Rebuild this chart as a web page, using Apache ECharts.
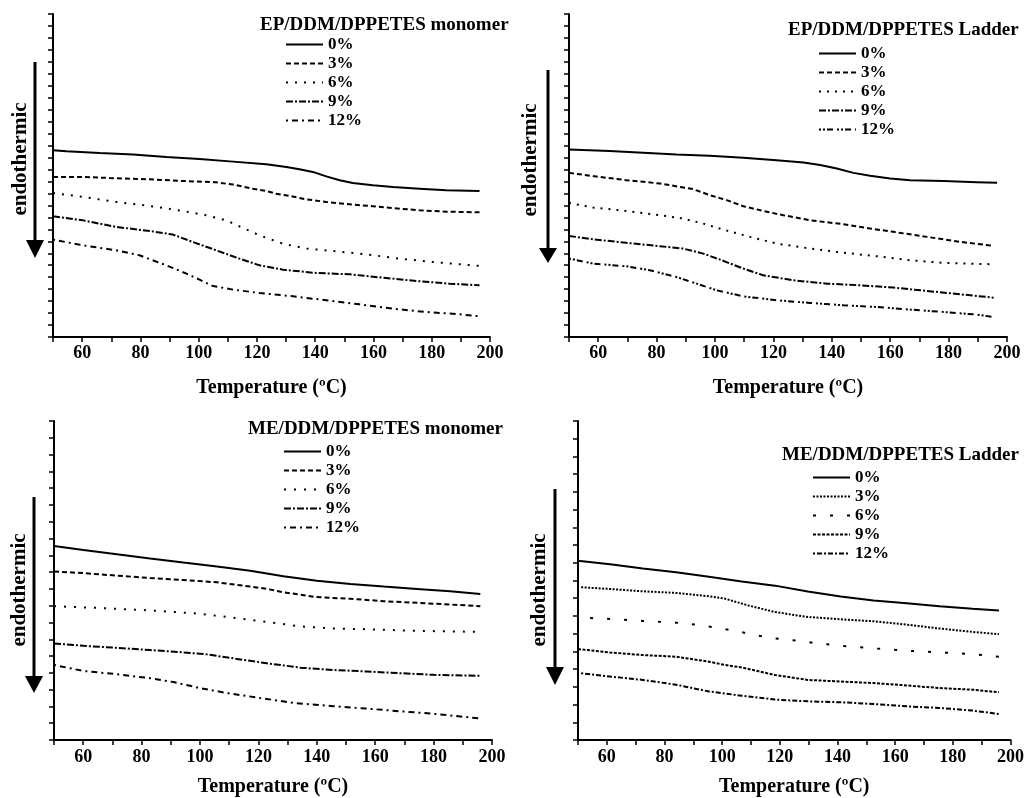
<!DOCTYPE html>
<html><head><meta charset="utf-8">
<script src="https://cdn.jsdelivr.net/npm/echarts@6/dist/echarts.min.js"></script>
<style>html,body{margin:0;padding:0;background:#fff}#c{width:1027px;height:798px}</style>
</head><body><div id="c"></div>
<script>
// ---------- data (temperature in °C, heat-flow in axis tick units) ----------
const xTicks = [60, 80, 100, 120, 140, 160, 180, 200];
const legendNames = ['0%', '3%', '6%', '9%', '12%'];
const panelTitles = ['EP/DDM/DPPETES monomer', 'EP/DDM/DPPETES Ladder', 'ME/DDM/DPPETES monomer', 'ME/DDM/DPPETES Ladder'];

// Panel 1: EP/DDM/DPPETES monomer
const p1_0 = [[50,15.61],[54.6,15.52],[66,15.38],[77.5,15.25],[88.9,15.05],[100.3,14.88],[111.8,14.66],[123.2,14.44],[130.1,14.21],[134.6,14.02],[139.2,13.80],[143.8,13.43],[148.4,13.10],[152.9,12.88],[159.8,12.68],[166.7,12.54],[175.8,12.40],[185,12.26],[196.4,12.21]];
const p1_3 = [[50,13.38],[60.3,13.38],[69.4,13.29],[83.2,13.18],[94.6,13.04],[106,12.93],[111.8,12.74],[118.6,12.40],[123.2,12.21],[126.6,11.98],[131.2,11.79],[136.9,11.51],[143.8,11.29],[151.8,11.09],[159.8,10.93],[169,10.73],[175.8,10.59],[185,10.48],[196.4,10.42]];
const p1_6 = [[50,12.04],[60.3,11.71],[71.7,11.29],[83.2,10.95],[94.6,10.54],[102.6,10.17],[109.5,9.75],[114,9.25],[120.9,8.50],[128.9,7.80],[136.9,7.39],[146.1,7.19],[157.5,6.91],[169,6.55],[180.4,6.27],[196.4,5.94]];
const p1_9 = [[50,10.09],[60.3,9.75],[71.7,9.20],[83.2,8.86],[91.2,8.56],[98,7.94],[106,7.25],[114,6.55],[120.9,5.99],[128.9,5.63],[140.4,5.35],[151.8,5.24],[163.2,4.96],[174.7,4.68],[186.1,4.46],[196.4,4.32]];
const p1_12 = [[50,8.14],[60.3,7.66],[71.7,7.25],[79.7,6.83],[88.9,5.99],[95.8,5.30],[100.3,4.79],[104.9,4.26],[111.8,3.96],[120.9,3.68],[132.4,3.40],[143.8,3.07],[155.2,2.73],[166.7,2.37],[178.1,2.09],[189.5,1.90],[196.4,1.73]];

// Panel 2: EP/DDM/DPPETES Ladder
const p2_0 = [[50,15.68],[63.9,15.54],[75.4,15.40],[86.8,15.26],[98.2,15.15],[109.7,14.98],[121.1,14.78],[130.3,14.59],[136,14.37],[141.7,14.09],[147.4,13.72],[153.1,13.47],[160,13.25],[166.8,13.11],[178.3,13.03],[189.7,12.94],[196.6,12.89]];
const p2_3 = [[50,13.72],[58.2,13.45],[69.7,13.11],[81.1,12.83],[92.5,12.36],[98.2,11.86],[104,11.44],[109.7,10.93],[116.5,10.54],[123.4,10.18],[132.5,9.76],[144,9.43],[153.1,9.07],[161.1,8.79],[172.6,8.37],[184,7.95],[195.4,7.62]];
const p2_6 = [[50,11.21],[58.2,10.82],[69.7,10.54],[81.1,10.18],[89.1,9.90],[96,9.48],[102.8,8.98],[112,8.37],[121.1,7.81],[130.3,7.48],[141.7,7.11],[155.4,6.75],[166.8,6.42],[178.3,6.19],[195.4,6.08]];
const p2_9 = [[50,8.45],[58.2,8.17],[69.7,7.87],[81.1,7.59],[89.1,7.39],[96,6.97],[101.7,6.47],[109.7,5.72],[116.5,5.16],[126.8,4.74],[138.3,4.46],[149.7,4.32],[161.1,4.13],[172.6,3.85],[184,3.57],[195.4,3.29]];
const p2_12 = [[50,6.56],[58.2,6.14],[69.7,5.91],[77.7,5.58],[86.8,5.02],[93.7,4.46],[100.5,3.91],[109.7,3.40],[121.1,3.07],[132.5,2.85],[144,2.65],[155.4,2.51],[166.8,2.29],[178.3,2.09],[189.7,1.87],[195.4,1.67]];

// Panel 3: ME/DDM/DPPETES monomer
const p3_0 = [[50,11.56],[60.1,11.32],[71.5,11.07],[82.9,10.81],[94.3,10.57],[105.8,10.34],[117.2,10.08],[128.6,9.75],[140,9.49],[151.5,9.29],[162.9,9.14],[174.3,9.00],[185.7,8.86],[196,8.70]];
const p3_3 = [[50,10.04],[60.1,9.94],[71.5,9.79],[82.9,9.65],[94.3,9.53],[105.8,9.39],[117.2,9.14],[122.9,9.00],[128.6,8.80],[140,8.51],[151.5,8.41],[162.9,8.27],[174.3,8.17],[185.7,8.07],[196,7.97]];
const p3_6 = [[50,7.97],[65.8,7.86],[82.9,7.72],[100,7.52],[111.5,7.28],[122.9,7.03],[134.3,6.77],[145.7,6.64],[157.2,6.60],[174.3,6.50],[196,6.44]];
const p3_9 = [[50,5.75],[60.1,5.61],[71.5,5.49],[82.9,5.36],[94.3,5.22],[102.3,5.10],[111.5,4.86],[122.9,4.57],[134.3,4.31],[145.7,4.17],[157.2,4.08],[168.6,3.98],[180,3.88],[196,3.82]];
const p3_12 = [[50,4.47],[60.1,4.11],[71.5,3.92],[82.9,3.68],[90.9,3.45],[100,3.09],[109.2,2.80],[120.6,2.50],[132,2.21],[145.7,2.01],[157.2,1.87],[168.6,1.71],[180,1.56],[196,1.28]];

// Panel 4: ME/DDM/DPPETES Ladder
const p4_0 = [[50,10.11],[61.1,9.92],[72.5,9.68],[84,9.46],[95.4,9.21],[106.8,8.95],[118.3,8.71],[129.7,8.38],[141.1,8.10],[152.5,7.87],[164,7.72],[175.4,7.55],[186.8,7.41],[196,7.31]];
const p4_3 = [[51.1,8.62],[61.1,8.52],[72.5,8.39],[84,8.30],[95.4,8.11],[101.1,7.97],[109.1,7.59],[118.3,7.22],[129.7,6.94],[141.1,6.81],[152.5,6.70],[164,6.51],[175.4,6.29],[186.8,6.10],[196,5.97]];
const p4_6 = [[54.2,6.88],[63.4,6.81],[72.5,6.72],[84,6.62],[90.8,6.51],[97.7,6.34],[104.6,6.16],[112.6,5.88],[118.3,5.73],[126.3,5.60],[133.1,5.45],[141.1,5.32],[152.5,5.17],[164,5.04],[175.4,4.94],[186.8,4.85],[196,4.70]];
const p4_9 = [[50,5.13],[61.1,4.94],[72.5,4.79],[84,4.70],[95.4,4.42],[101.1,4.23],[106.8,4.09],[118.3,3.67],[129.7,3.39],[141.1,3.30],[152.5,3.21],[164,3.08],[175.4,2.93],[186.8,2.84],[196,2.69]];
const p4_12 = [[51.1,3.77],[61.1,3.58],[72.5,3.39],[84,3.12],[95.4,2.74],[106.8,2.50],[118.3,2.28],[129.7,2.18],[141.1,2.13],[152.5,2.03],[164,1.90],[175.4,1.81],[186.8,1.66],[196,1.47]];

const panelData = [[p1_0,p1_3,p1_6,p1_9,p1_12],[p2_0,p2_3,p2_6,p2_9,p2_12],[p3_0,p3_3,p3_6,p3_9,p3_12],[p4_0,p4_3,p4_6,p4_9,p4_12]];
const yTickCounts = [27, 27, 19, 18];

// ---------- layout / style ----------
const FONT = '"Liberation Serif", "Times New Roman", serif';
const grids = [
  {left:53, top:14, width:437, height:323},
  {left:569, top:14, width:438, height:323},
  {left:54, top:421, width:438, height:321},
  {left:578, top:421, width:437, height:321}
];
const dashes = [
  ['solid',[5,3],[2,7],[7,2,2,2],[2,4,6,4]],
  ['solid',[5,3],[2,6],[7,2,2,2],[2,2,2,2,6,4]],
  ['solid',[5,3],[2,8],[7,2,2,2],[2,4,6,4]],
  ['solid',[2,1.5],[3,14],[3,1.5],[2,2,5,2]]
];
const titlePos = [{left:260,top:16},{left:788,top:21},{left:248,top:420},{left:782,top:446}];
const legendPos = [{left:285,top:36},{left:818,top:45},{left:283,top:443},{left:812,top:469}];
const labelMargin = [7,7,8,8];
const nameGap = [41,41,37,37];
const arrows = [
  {x:35, y0:62, y1:240, tip:258, hw:9},
  {x:548, y0:70, y1:248, tip:263, hw:9},
  {x:34, y0:497, y1:676, tip:693, hw:9},
  {x:555, y0:489, y1:667, tip:685, hw:9}
];
const endoPos = [[21,159],[531,160],[20,590],[540,590]];

const option = {
  animation:false, backgroundColor:'#fff',
  title:[], legend:[], grid:[], xAxis:[], yAxis:[], series:[], graphic:[]
};
for (let p=0;p<4;p++){
  option.grid.push(grids[p]);
  option.title.push({text:panelTitles[p], left:titlePos[p].left, top:titlePos[p].top, padding:0,
    textStyle:{fontFamily:FONT, fontWeight:'bold', fontSize:19, color:'#000'}});
  option.xAxis.push({type:'value', gridIndex:p, min:50, max:200, interval:10,
    axisLine:{lineStyle:{color:'#000', width:2}},
    axisTick:{length:5, lineStyle:{color:'#000', width:1.5}},
    splitLine:{show:false},
    axisLabel:{margin:labelMargin[p], color:'#000', fontFamily:FONT, fontWeight:'bold', fontSize:18,
      formatter:v => xTicks.indexOf(v) >= 0 ? String(v) : ''},
    name:'Temperature (ºC)', nameLocation:'middle', nameGap:nameGap[p],
    nameTextStyle:{color:'#000', fontFamily:FONT, fontWeight:'bold', fontSize:20}});
  option.yAxis.push({type:'value', gridIndex:p, min:0, max:yTickCounts[p], interval:1,
    axisLine:{show:true, lineStyle:{color:'#000', width:2}},
    axisTick:{show:true, length:5, lineStyle:{color:'#000', width:1.5}},
    axisLabel:{show:false}, splitLine:{show:false}});
  const names = legendNames.map(n => 'p'+p+'|'+n);
  option.legend.push({orient:'vertical', left:legendPos[p].left, top:legendPos[p].top, padding:0,
    itemWidth:37, itemHeight:12, itemGap:2, data:names, selectedMode:false,
    itemStyle:{color:'rgba(0,0,0,0)', borderWidth:0, opacity:0},
    formatter:n => n.split('|')[1],
    textStyle:{color:'#000', fontFamily:FONT, fontWeight:'bold', fontSize:17, lineHeight:17}});
  panelData[p].forEach((d,i) => {
    option.series.push({type:'line', name:names[i], xAxisIndex:p, yAxisIndex:p, data:d,
      showSymbol:false, symbol:'none', smooth:false,
      lineStyle:{color:'#000', width:2, type:dashes[p][i]}, itemStyle:{color:'#000'}});
  });
  const a = arrows[p];
  option.graphic.push({type:'line', shape:{x1:a.x, y1:a.y0, x2:a.x, y2:a.y1+2}, style:{stroke:'#000', lineWidth:3}});
  option.graphic.push({type:'polygon', shape:{points:[[a.x-a.hw,a.y1],[a.x+a.hw,a.y1],[a.x,a.tip]]}, style:{fill:'#000'}});
  option.graphic.push({type:'text', x:endoPos[p][0], y:endoPos[p][1], rotation:Math.PI/2,
    style:{text:'endothermic', textAlign:'center', textVerticalAlign:'middle', fill:'#000',
      font:'bold 21px "Liberation Serif", serif'}});
}
const chart = echarts.init(document.getElementById('c'), null, {renderer:'canvas'});
chart.setOption(option);
</script></body></html>
